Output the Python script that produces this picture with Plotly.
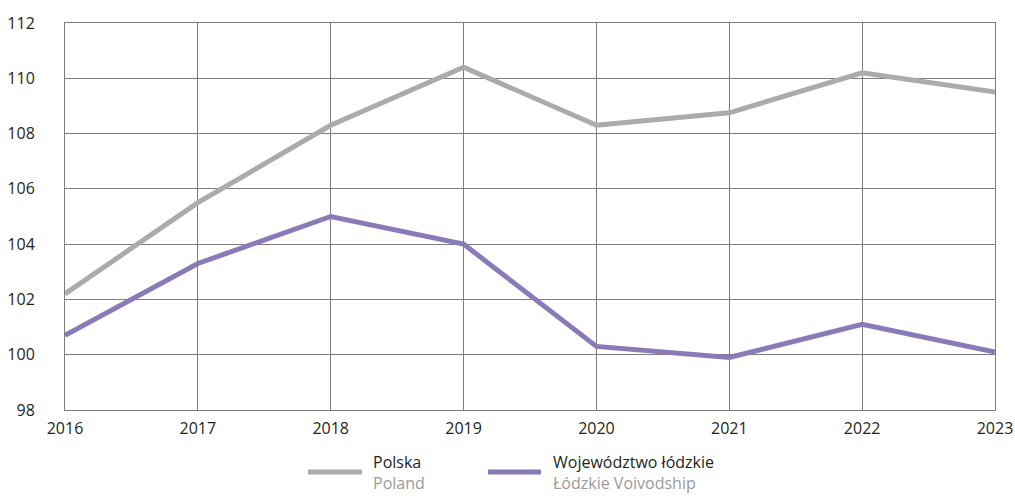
import plotly.graph_objects as go

years = [2016, 2017, 2018, 2019, 2020, 2021, 2022, 2023]
polska = [102.2, 105.5, 108.3, 110.4, 108.3, 108.75, 110.2, 109.5]
lodzkie = [100.7, 103.3, 105.0, 104.0, 100.3, 99.9, 101.1, 100.1]
y_ticks = [98, 100, 102, 104, 106, 108, 110, 112]

name_pl = ["Polska", "Poland"]
name_lodz = ["Województwo łódzkie", "Łódzkie Voivodship"]

GRAY = "#aaabad"
PURPLE = "#8b7ab8"
GRID = "#7d7d7d"
FONT = "Open Sans"

fig = go.Figure()
fig.add_trace(go.Scatter(x=years, y=polska, mode="lines", name=name_pl[0],
                         line=dict(color=GRAY, width=5), showlegend=False))
fig.add_trace(go.Scatter(x=years, y=lodzkie, mode="lines", name=name_lodz[0],
                         line=dict(color=PURPLE, width=5), showlegend=False))

# manual legend (paper coordinates)
for color, names, x0, x1, xt in [(GRAY, name_pl, 0.2613, 0.3194, 0.330),
                                 (PURPLE, name_lodz, 0.4548, 0.5118, 0.5237)]:
    fig.add_shape(type="line", xref="paper", yref="paper", x0=x0, x1=x1,
                  y0=-0.160, y1=-0.160, line=dict(color=color, width=5))
    fig.add_annotation(xref="paper", yref="paper", x=xt, y=-0.2196,
                       xanchor="left", yanchor="bottom", showarrow=False, align="left",
                       borderpad=0,
                       text=f"{names[0]}<br><span style='color:#9a9a9a'>{names[1]}</span>",
                       font=dict(family=FONT, size=16, color="#231f20"))

fig.update_xaxes(range=[2016, 2023], tickvals=years, ticktext=[str(y) for y in years],
                 showgrid=True, gridcolor=GRID, gridwidth=1, automargin=False,
                 showline=True, linecolor=GRID, linewidth=1, mirror=True,
                 zeroline=False, ticks="", ticklabelstandoff=4,
                 tickfont=dict(family=FONT, size=16, color="#231f20"))
fig.update_yaxes(range=[98, 112], tickvals=y_ticks, automargin=False,
                 showgrid=True, gridcolor=GRID, gridwidth=1,
                 showline=True, linecolor=GRID, linewidth=1, mirror=True,
                 zeroline=False, ticks="", ticklabelstandoff=26,
                 tickfont=dict(family=FONT, size=16, color="#231f20"))

fig.update_layout(width=1015, height=496, margin=dict(l=65, r=20, t=23, b=86),
                  plot_bgcolor="white", paper_bgcolor="white",
                  font=dict(family=FONT, size=16, color="#231f20"))

# remove the page's default body margin so the figure fills the window exactly
fig.write_html("out.html", config={"displayModeBar": False},
               post_script="document.body.style.margin='0';document.body.style.overflow='hidden';")
